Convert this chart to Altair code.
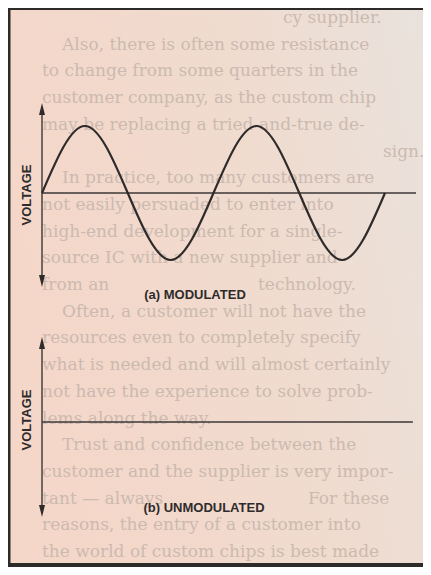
import altair as alt
import pandas as pd

# ---------------- data ----------------
# (a) modulated signal, read at every quarter period
quarter = [0, 1, 2, 3, 4, 5, 6, 7, 8]
voltage_mod = [0, 1, 0, -1, 0, 1, 0, -1, 0]
# (b) unmodulated signal: flat
quarter_flat = [0, 8.65]
voltage_flat = [0, 0]

panel_titles = ["(a) MODULATED", "(b) UNMODULATED"]
axis_label = "VOLTAGE"

# faint magazine text showing through the figure (parts hidden by the labels left out)
bg_text = [
    "cy supplier.",
    "Also, there is often some resistance",
    "to change from some quarters in the",
    "customer company, as the custom chip",
    "may be replacing a tried-and-true de-",
    "sign.",
    "In practice, too many customers are",
    "not easily persuaded to enter into",
    "high-end development for a single-",
    "source IC with a new supplier and",
    "from an",
    "technology.",
    "Often, a customer will not have the",
    "resources even to completely specify",
    "what is needed and will almost certainly",
    "not have the experience to solve prob-",
    "lems along the way.",
    "Trust and confidence between the",
    "customer and the supplier is very impor-",
    "tant \u2014 always",
    "For these",
    "reasons, the entry of a customer into",
    "the world of custom chips is best made",
]
bg_row = [0, 1, 2, 3, 4, 5, 6, 7, 8, 9, 10, 10, 11, 12, 13, 14, 15, 16, 17, 18, 18, 19, 20]
bg_kind = ["end", "first", "body", "body", "body", "end2", "first", "body", "body",
           "body", "body", "after_a", "first", "body", "body", "body", "body", "first",
           "body", "body", "after_b", "body", "body"]

# ---------------- layout ----------------
W, H = 415, 559
INK = "#2f2b2b"
X0 = 34            # vertical axis position
PXQ = 42.875       # px per quarter period
AMP = 67           # px per voltage unit
BASE_A, BASE_B = 185, 414

xs = alt.Scale(domain=[-X0 / PXQ, (W - X0) / PXQ], nice=False, zero=False)
ysA = alt.Scale(domain=[-(H - BASE_A) / AMP, BASE_A / AMP], nice=False, zero=False)
ysB = alt.Scale(domain=[-(H - BASE_B) / AMP, BASE_B / AMP], nice=False, zero=False)

one = pd.DataFrame({"k": [0]})
df_mod = pd.DataFrame({"t": quarter, "v": voltage_mod})
df_flat = pd.DataFrame({"t": quarter_flat, "v": voltage_flat})
df_bg = pd.DataFrame({"i": bg_row, "txt": bg_text, "kind": bg_kind})

UP = "M0,-1L0.5,1L-0.5,1Z"
DOWN = "M0,1L0.5,-1L-0.5,-1Z"


def rect(x, x2, y, y2, color):
    return alt.Chart(one).mark_rect(color=color).encode(
        x=alt.value(x), x2=alt.value(x2), y=alt.value(y), y2=alt.value(y2))


def vrule(x, y, y2, w=1.3):
    return alt.Chart(one).mark_rule(color=INK, strokeWidth=w).encode(
        x=alt.value(x), y=alt.value(y), y2=alt.value(y2))


def hrule(x, x2, y, w=1.5):
    return alt.Chart(one).mark_rule(color="#3c3737", strokeWidth=w).encode(
        x=alt.value(x), x2=alt.value(x2), y=alt.value(y))


def head(shape, x, y):
    return alt.Chart(one).mark_point(shape=shape, filled=True, size=144, color=INK,
                                     opacity=1, strokeWidth=0).encode(
        x=alt.value(x), y=alt.value(y))


def label(text, x, y, angle=0):
    kw = dict(text=text, font="Liberation Sans", fontWeight="bold", fontSize=13, color=INK)
    if angle:
        kw["angle"] = angle
    return alt.Chart(one).mark_text(**kw).encode(x=alt.value(x), y=alt.value(y))


background = alt.Chart(one).mark_rect(
    color=alt.LinearGradient(
        gradient="linear",
        stops=[alt.GradientStop(color="#f4d7c9", offset=0),
               alt.GradientStop(color="#f0dbcf", offset=0.55),
               alt.GradientStop(color="#e9e2dc", offset=1)],
        x1=0, x2=1, y1=0.3, y2=0)
).encode(x=alt.value(0), x2=alt.value(W), y=alt.value(0), y2=alt.value(H))

bg_lines = alt.Chart(df_bg).mark_text(
    align="left", baseline="middle", font="DejaVu Serif", fontSize=17, color="#ccbab0"
).transform_calculate(
    py="10 + datum.i * 26.7",
    px=("datum.kind == 'end' ? 275 : datum.kind == 'end2' ? 375 : "
        "datum.kind == 'after_a' ? 250 : datum.kind == 'after_b' ? 300 : "
        "datum.kind == 'first' ? 54 : 34"),
).encode(x=alt.X("px:Q", scale=None), y=alt.Y("py:Q", scale=None), text="txt:N")

frame = [
    rect(0, 2.5, 0, H, "#2d2a2a"),
    rect(0, W, 0, 2, "#2d2a2a"),
    rect(0, W, H - 4, H, "#2d2a2a"),
]

sine = alt.Chart(df_mod).mark_line(interpolate="natural", color=INK, strokeWidth=2.2).encode(
    x=alt.X("t:Q", scale=xs, axis=None), y=alt.Y("v:Q", scale=ysA, axis=None))
flat = alt.Chart(df_flat).mark_line(color="#3c3737", strokeWidth=1.5).encode(
    x=alt.X("t:Q", scale=xs, axis=None), y=alt.Y("v:Q", scale=ysB, axis=None))

layers = [background, bg_lines] + frame + [
    hrule(X0, 408, BASE_A),
    vrule(X0, 101, 273), head(UP, X0, 101), head(DOWN, X0, 273),
    vrule(X0, 335, 503), head(UP, X0, 335), head(DOWN, X0, 503),
    sine, flat,
    label(axis_label, 19, 187, 270), label(axis_label, 19, 412, 270),
    label(panel_titles[0], 187, 287), label(panel_titles[1], 196, 500),
]

chart = alt.layer(*layers).resolve_scale(x="independent", y="independent").properties(
    width=W, height=H, padding=0, autosize="none"
).configure_view(strokeWidth=0)

chart.save("out.html", embed_options={"renderer": "svg", "actions": False})
